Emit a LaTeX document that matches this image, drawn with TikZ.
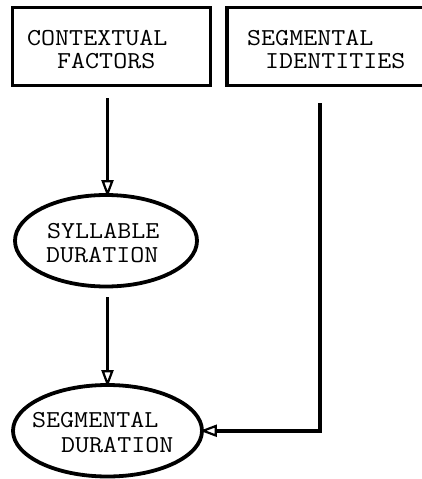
\documentclass[tikz,border=0pt]{standalone}
\usetikzlibrary{arrows.meta,shapes.geometric}
\newcommand{\wideTT}[1]{\scalebox{1.12}[1]{#1}}
\begin{document}
\begin{tikzpicture}[x=1pt,y=-1pt,
  shapeline/.style={draw=black, line width=3.8pt},
  boxshape/.style={shapeline, rectangle, inner sep=0pt},
  ellshape/.style={shapeline, ellipse, inner sep=0pt},
  lbl/.style={font=\ttfamily\fontsize{24.3}{24}\selectfont, inner sep=0pt, anchor=base west},
  conn/.style={line width=3.8pt, -{Triangle[open,length=17pt,width=12pt,line width=2.2pt]}, shorten >=-4pt}]
\useasboundingbox (0,0) rectangle (422,479);
\clip (0,0) rectangle (422,479);
% shapes
\node[boxshape, minimum width=198pt, minimum height=78pt] (ctx) at (111.5,46.5) {};
\node[boxshape, minimum width=200pt, minimum height=78pt] (sid) at (327,46.5) {};
\node[ellshape, minimum width=182pt, minimum height=91.5pt] (syl) at (106,240.75) {};
\node[ellshape, minimum width=189pt, minimum height=91.5pt] (seg) at (107.5,430.75) {};
% labels
\node[lbl] (ctx1) at (27,45) {\wideTT{CONTEXTUAL}};
\node[lbl] (ctx2) at (57,68) {\wideTT{FACTORS}};
\node[lbl] (sid1) at (247,45) {\wideTT{SEGMENTAL}};
\node[lbl] (sid2) at (265,68) {\wideTT{IDENTITIES}};
\node[lbl] (syl1) at (47,238) {\wideTT{SYLLABLE}};
\node[lbl] (syl2) at (46,262) {\wideTT{DURATION}};
\node[lbl] (seg1) at (32,427) {\wideTT{SEGMENTAL}};
\node[lbl] (seg2) at (61,452) {\wideTT{DURATION}};
% connector starts
\coordinate (a1) at (107.5,98);
\coordinate (a2) at (107.5,297);
\coordinate (a3) at (320,103);
% connectors
\draw[conn] (a1) -- (a1 |- syl.north);
\draw[conn] (a2) -- (a2 |- seg.north);
\draw[conn] (a3) |- (seg.east);
\end{tikzpicture}
\end{document}
